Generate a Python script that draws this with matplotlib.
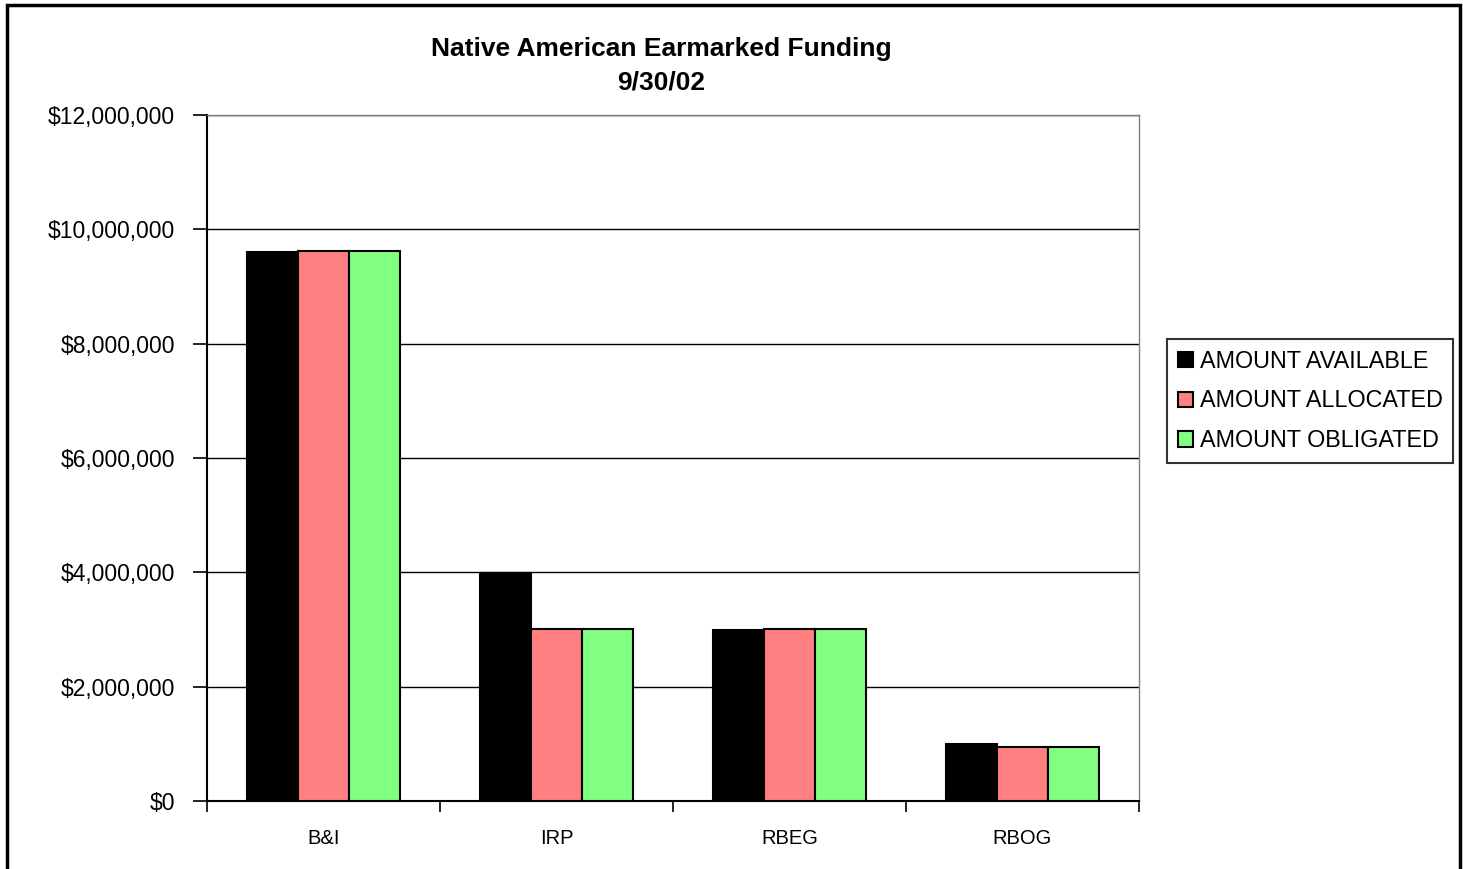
import numpy as np
import matplotlib
matplotlib.use("Agg")
from matplotlib import pyplot as plt
from matplotlib.ticker import FuncFormatter, MultipleLocator
from matplotlib.patches import Rectangle

plt.rcParams['font.family'] = ['Liberation Sans', 'DejaVu Sans']

# data
programs = ['B&I', 'IRP', 'RBEG', 'RBOG']
series = ['AMOUNT AVAILABLE', 'AMOUNT ALLOCATED', 'AMOUNT OBLIGATED']
available = [9600000, 3980000, 3000000, 1000000]
allocated = [9620000, 3010000, 3010000, 945000]
obligated = [9620000, 3010000, 3010000, 945000]
colors = ['#000000', '#FF8080', '#80FF80']

fig = plt.figure(figsize=(14.63, 8.69), dpi=100)
ax = fig.add_axes([207/1463, 1-801/869, (1139-207)/1463, (801-115)/869])

x = np.arange(len(programs))
w = 0.22
for i, (vals, c, lab) in enumerate(zip([available, allocated, obligated], colors, series)):
    ax.bar(x + (i-1)*w, vals, w, color=c, edgecolor='black', linewidth=1.5,
           label=lab, zorder=3)

ax.set_xlim(-0.5, len(programs)-0.5)
ax.set_ylim(0, 12000000)
ax.yaxis.set_major_locator(MultipleLocator(2000000))
ax.yaxis.set_major_formatter(FuncFormatter(lambda v, p: '${:,.0f}'.format(v)))
ax.grid(axis='y', color='black', linewidth=1, zorder=0)

# category labels between boundary ticks
ax.set_xticks(np.arange(len(programs)+1) - 0.5)
ax.set_xticklabels([])
ax.set_xticks(x, minor=True)
ax.set_xticklabels(programs, minor=True, fontsize=14.5)
ax.tick_params(axis='x', which='minor', length=0, pad=20)
ax.tick_params(axis='x', which='major', direction='out', length=8, width=1.2)
ax.tick_params(axis='y', direction='out', length=10, width=1.2, labelsize=16.5, pad=13)

for s in ['top', 'right']:
    ax.spines[s].set_color('#808080')
    ax.spines[s].set_linewidth(1)
for s in ['left', 'bottom']:
    ax.spines[s].set_linewidth(1.5)

fig.text(661/1463, 1-49/869, 'Native American Earmarked Funding', ha='center',
         va='center', fontsize=19, fontweight='bold')
fig.text(661/1463, 1-82/869, '9/30/02', ha='center', va='center',
         fontsize=19, fontweight='bold')

leg = ax.legend(loc='center left', bbox_to_anchor=(1167/1463, 1-401/869),
                bbox_transform=fig.transFigure, fontsize=16.8, frameon=True,
                fancybox=False, edgecolor='black', handlelength=0.65,
                handleheight=0.65, handletextpad=0.3, borderpad=0.45,
                labelspacing=0.72, borderaxespad=0)
leg.get_frame().set_linewidth(1.5)

# outer chart border
fig.patches.append(Rectangle((7/1463, -0.01), (1460-7)/1463, 1.01-5/869,
                             transform=fig.transFigure, fill=False,
                             edgecolor='black', linewidth=2.5))

fig.savefig('out.png', dpi=100)
